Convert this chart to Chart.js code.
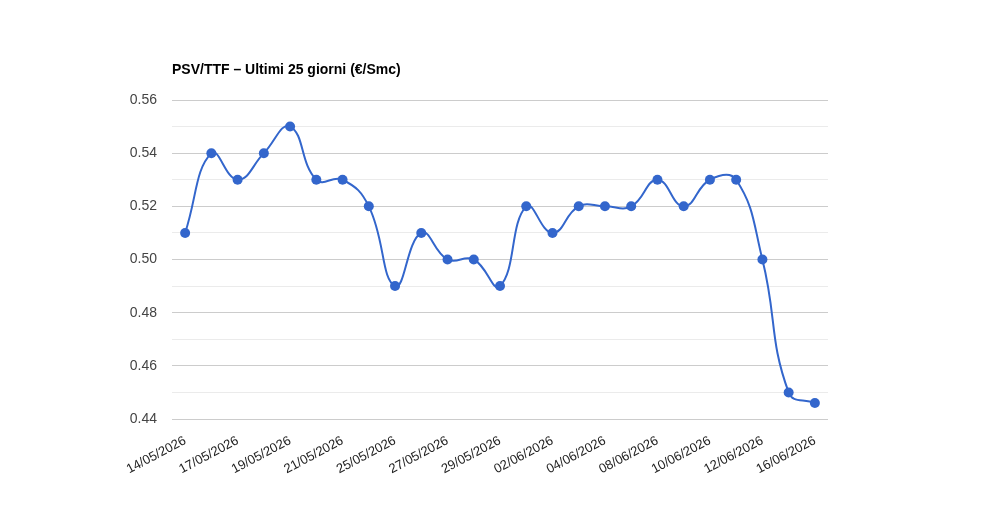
<!DOCTYPE html>
<html><head><meta charset="utf-8">
<script src="https://cdn.jsdelivr.net/npm/chart.js@4/dist/chart.umd.min.js"></script>
<style>html,body{margin:0;padding:0;background:#fff}#w{width:1000px;height:520px;position:relative}</style>
</head><body><div id="w"><canvas id="c" width="1000" height="520"></canvas></div>
<script>
const chartTitle = "PSV/TTF – Ultimi 25 giorni (€/Smc)";
const dates = ["14/05/2026","15/05/2026","17/05/2026","18/05/2026","19/05/2026","20/05/2026","21/05/2026","22/05/2026","25/05/2026","26/05/2026","27/05/2026","28/05/2026","29/05/2026","01/06/2026","02/06/2026","03/06/2026","04/06/2026","05/06/2026","08/06/2026","09/06/2026","10/06/2026","11/06/2026","12/06/2026","15/06/2026","16/06/2026"];
const psvTtf = [0.51,0.54,0.53,0.54,0.55,0.53,0.53,0.52,0.49,0.51,0.50,0.50,0.49,0.52,0.51,0.52,0.52,0.52,0.53,0.52,0.53,0.53,0.50,0.45,0.446];
const yMin = 0.44, yMax = 0.56, yStep = 0.01;

const titlePlugin = {
  id: 'leftTitle',
  afterDraw(chart) {
    const ctx = chart.ctx;
    ctx.save();
    ctx.font = 'bold 14px "Liberation Sans", Arial, sans-serif';
    ctx.fillStyle = '#000';
    ctx.textAlign = 'left';
    ctx.textBaseline = 'middle';
    ctx.fillText(chartTitle, chart.chartArea.left, 70);
    ctx.restore();
  }
};

new Chart(document.getElementById('c'), {
  type: 'line',
  data: {
    labels: dates,
    datasets: [{
      data: psvTtf,
      borderColor: '#3366cc',
      backgroundColor: '#3366cc',
      borderWidth: 2,
      pointRadius: 5,
      pointHoverRadius: 5,
      pointBorderWidth: 0,
      tension: 0.45,
      fill: false
    }]
  },
  options: {
    responsive: false,
    animation: false,
    layout: { padding: { left: 100, right: 172, top: 100, bottom: 30 } },
    plugins: { legend: { display: false }, title: { display: false }, tooltip: { enabled: false } },
    scales: {
      x: {
        offset: true,
        grid: { display: false },
        border: { display: false },
        afterFit(s) { s.height = 71; },
        ticks: {
          autoSkip: false,
          maxRotation: 28, minRotation: 28,
          color: '#222',
          font: { family: '"Liberation Sans", Arial, sans-serif', size: 13 },
          padding: 6,
          callback(v, i) { return i % 2 === 0 ? dates[i] : ''; }
        }
      },
      y: {
        min: yMin, max: yMax,
        afterFit(s) { s.width = 72; },
        border: { display: false },
        grid: {
          drawTicks: false,
          color(ctx) {
            const k = Math.round(ctx.tick.value * 100);
            return k % 2 === 0 ? '#cccccc' : '#ebebeb';
          },
          lineWidth: 1
        },
        ticks: {
          stepSize: yStep,
          padding: 15,
          color: '#444',
          font: { family: '"Liberation Sans", Arial, sans-serif', size: 14 },
          callback(v) {
            const k = Math.round(v * 100);
            return k % 2 === 0 ? (k / 100).toFixed(2) : '';
          }
        }
      }
    }
  },
  plugins: [titlePlugin]
});
</script></body></html>
